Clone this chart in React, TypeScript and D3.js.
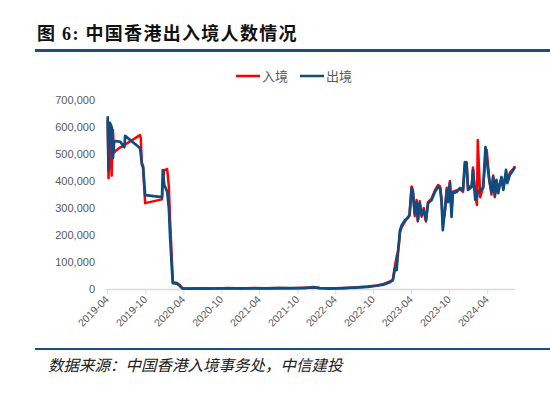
import React from 'react';
import * as d3 from 'd3';

// 日期 / 出境 / 入境 (单位: 千人次)
const dates = [
  '2019-04-01', '2019-04-05', '2019-04-12', '2019-04-20', '2019-04-26', '2019-05-02', '2019-05-10',
  '2019-06-01', '2019-06-20', '2019-06-24', '2019-09-03', '2019-09-07', '2019-09-12', '2019-09-18',
  '2019-09-28', '2019-12-18', '2019-12-22', '2019-12-29', '2020-01-12', '2020-01-20', '2020-01-26',
  '2020-02-04', '2020-02-08', '2020-02-28', '2020-03-12', '2020-03-25', '2020-05-01', '2020-07-01',
  '2020-09-01', '2020-11-01', '2021-01-01', '2021-03-01', '2021-05-01', '2021-07-01', '2021-09-01',
  '2021-11-01', '2021-12-15', '2022-01-15', '2022-03-01', '2022-05-01', '2022-07-01', '2022-09-01',
  '2022-10-15', '2022-11-15', '2022-12-18', '2023-01-01', '2023-01-12', '2023-01-19', '2023-01-25',
  '2023-02-01', '2023-02-04', '2023-02-13', '2023-02-28', '2023-03-13', '2023-03-22', '2023-04-01',
  '2023-04-07', '2023-04-16', '2023-04-25', '2023-05-01', '2023-05-10', '2023-05-19', '2023-05-29',
  '2023-06-09', '2023-06-19', '2023-07-06', '2023-07-22', '2023-08-06', '2023-08-16', '2023-08-23',
  '2023-08-29', '2023-09-09', '2023-09-17', '2023-09-23', '2023-10-02', '2023-10-10', '2023-10-16',
  '2023-11-03', '2023-11-19', '2023-12-04', '2023-12-13', '2023-12-21', '2023-12-28', '2024-01-15',
  '2024-01-21', '2024-02-01', '2024-02-09', '2024-02-13', '2024-02-25', '2024-03-10', '2024-03-21',
  '2024-03-27', '2024-04-08', '2024-04-19', '2024-04-27', '2024-05-05', '2024-05-13', '2024-05-21',
  '2024-05-29', '2024-06-06', '2024-06-15', '2024-06-28', '2024-07-04', '2024-07-16', '2024-08-02',
  '2024-08-10',
];

const outbound = [
  640, 440, 615, 600, 485, 545, 548,
  545, 525, 567, 522, 500, 467, 455,
  348, 340, 440, 385, 360, 300, 193,
  70, 22, 20, 12, 2, 1.2, 1.5,
  1.8, 2, 2, 2.5, 2.5, 3, 3,
  3.5, 7, 3, 1.5, 3, 5, 8,
  12, 16, 25, 33, 81, 70, 130,
  189, 218, 237, 255, 263, 274, 374,
  360, 281, 322, 255, 318, 274, 292,
  255, 318, 330, 359, 378, 374, 322,
  218, 303, 367, 322, 392, 267, 355,
  359, 374, 367, 470, 467, 367, 378,
  441, 330, 341, 360, 367, 374, 526,
  480, 404, 359, 415, 348, 404, 355,
  385, 415, 367, 441, 392, 422, 441,
  452,
];

const inbound = [
  626, 410, 600, 420, 590, 505, 512,
  525, 530, 535, 570, 560, 460, 450,
  318, 332, 400, 440, 444, 380, 250,
  100, 25, 22, 15, 3, 1.5, 3,
  1.5, 3.5, 2, 4, 2.5, 4, 3,
  5, 6, 4, 3, 3, 6, 9,
  13, 18, 28, 35, 90, 120, 137,
  180, 210, 230, 250, 265, 272, 380,
  365, 270, 330, 250, 325, 268, 300,
  250, 322, 335, 365, 385, 380, 335,
  240, 290, 375, 330, 400, 290, 360,
  365, 370, 360, 460, 470, 380, 380,
  450, 350, 311, 552, 340, 380, 480,
  515, 410, 350, 420, 340, 400, 360,
  390, 410, 375, 430, 400, 430, 445,
  455,
];

const yTicks = [0, 100000, 200000, 300000, 400000, 500000, 600000, 700000];
const xTickLabels = [
  '2019-04', '2019-10', '2020-04', '2020-10', '2021-04', '2021-10',
  '2022-04', '2022-10', '2023-04', '2023-10', '2024-04',
];

const RED = '#ff0000';
const BLUE = '#0f4c81';
const GRAY = '#595959';
const SANS = '"Liberation Sans", Arial, sans-serif';
const CJK = '"Noto Sans CJK SC", sans-serif';

export default function App() {
  const parse = d3.timeParse('%Y-%m-%d');
  const parseM = d3.timeParse('%Y-%m');
  const pts = dates.map((d, i) => ({ t: parse(d), out: outbound[i] * 1000, inn: inbound[i] * 1000 }));

  const x = d3.scaleTime()
    .domain([parse('2019-04-01'), parse('2024-08-10')])
    .range([107.7, 515]);
  const y = d3.scaleLinear().domain([0, 700000]).range([289, 100]);

  const lineIn = d3.line<any>().x(d => x(d.t)).y(d => y(d.inn));
  const lineOut = d3.line<any>().x(d => x(d.t)).y(d => y(d.out));
  const fmt = d3.format(',');

  return (
    <div style={{ position: 'fixed', left: 0, top: 0 }}>
      <svg width={550} height={393} style={{ display: 'block', background: '#fff' }}>
        <text x={37} y={40} fontSize={18} fontWeight="bold" fill="#111" fontFamily={CJK} letterSpacing={1.3}>
          <tspan>图</tspan>
          <tspan fontFamily='"Liberation Serif", "Times New Roman", serif'> 6: </tspan>
          <tspan>中国香港出入境人数情况</tspan>
        </text>
        <rect x={35} y={49} width={515} height={3} fill="#1b4f7e" />

        {/* legend */}
        <line x1={236} x2={260} y1={76} y2={76} stroke={RED} strokeWidth={2.5} />
        <text x={262} y={80.5} fontSize={13} fill={GRAY} fontFamily={CJK}>入境</text>
        <line x1={300} x2={324} y1={76} y2={76} stroke={BLUE} strokeWidth={2.5} />
        <text x={326} y={80.5} fontSize={13} fill={GRAY} fontFamily={CJK}>出境</text>

        {/* y axis labels */}
        {yTicks.map(v => (
          <text key={v} x={95} y={y(v)} dy="0.35em" textAnchor="end" fontSize={11} fill={GRAY} fontFamily={SANS}>
            {fmt(v)}
          </text>
        ))}

        {/* x axis */}
        <line x1={106} x2={515} y1={289.5} y2={289.5} stroke="#d9d9d9" strokeWidth={1.5} />
        {xTickLabels.map(s => {
          const tx = x(parseM(s));
          return (
            <g key={s}>
              <line x1={tx} x2={tx} y1={289.5} y2={294} stroke="#d9d9d9" strokeWidth={1} />
              <text transform={`translate(${tx + 2},${300}) rotate(-45)`} textAnchor="end" fontSize={10.5}
                fill={GRAY} fontFamily={SANS}>{s}</text>
            </g>
          );
        })}

        <path d={lineIn(pts)} fill="none" stroke={RED} strokeWidth={2.5} strokeLinejoin="round" />
        <path d={lineOut(pts)} fill="none" stroke={BLUE} strokeWidth={2.7} strokeLinejoin="round" />

        <rect x={35} y={348} width={515} height={2} fill="#1b4f7e" />
        <text x={48} y={371} fontSize={15.5} fontStyle="italic" fill="#222" fontFamily={CJK}>
          数据来源：中国香港入境事务处，中信建投
        </text>
      </svg>
    </div>
  );
}
